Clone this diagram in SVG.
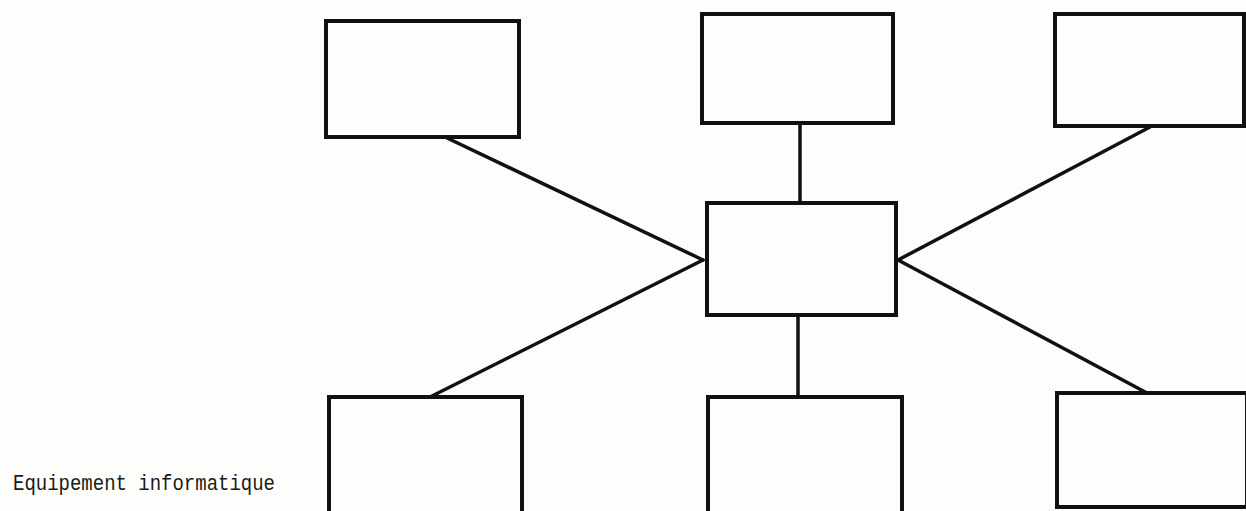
<svg xmlns="http://www.w3.org/2000/svg" width="1246" height="511" viewBox="0 0 1246 511">
<style>
.box{fill:none;stroke:#111;stroke-width:4}
.conn{stroke:#111;stroke-width:3.5;fill:none;stroke-linecap:round}
.lbl{font-family:"Liberation Mono","DejaVu Sans Mono",monospace;font-size:22px;fill:#1a1a1a}
</style>
<rect width="1246" height="511" fill="#fdfdfb"/>
<g id="connectors">
<line class="conn" x1="445" y1="137" x2="703" y2="260"/>
<line class="conn" x1="1150" y1="127" x2="898" y2="260"/>
<line class="conn" x1="430" y1="397" x2="703" y2="260"/>
<line class="conn" x1="1147" y1="393" x2="898" y2="260"/>
<line class="conn" x1="800" y1="123" x2="800" y2="203"/>
<line class="conn" x1="798" y1="397" x2="798" y2="315"/>
</g>
<g id="node-tl"><rect class="box" x="326" y="21" width="193" height="116"/></g>
<g id="node-tm"><rect class="box" x="702" y="14" width="191" height="109"/></g>
<g id="node-tr"><rect class="box" x="1055" y="14" width="189" height="112"/></g>
<g id="node-center"><rect class="box" x="707" y="203" width="189" height="112"/></g>
<g id="node-bl"><rect class="box" x="329" y="397" width="193" height="118"/></g>
<g id="node-bm"><rect class="box" x="708" y="397" width="194" height="118"/></g>
<g id="node-br"><rect class="box" x="1057" y="393" width="190" height="114"/></g>
<text class="lbl" x="13" y="490" textLength="262" lengthAdjust="spacingAndGlyphs">Equipement informatique</text>
</svg>
